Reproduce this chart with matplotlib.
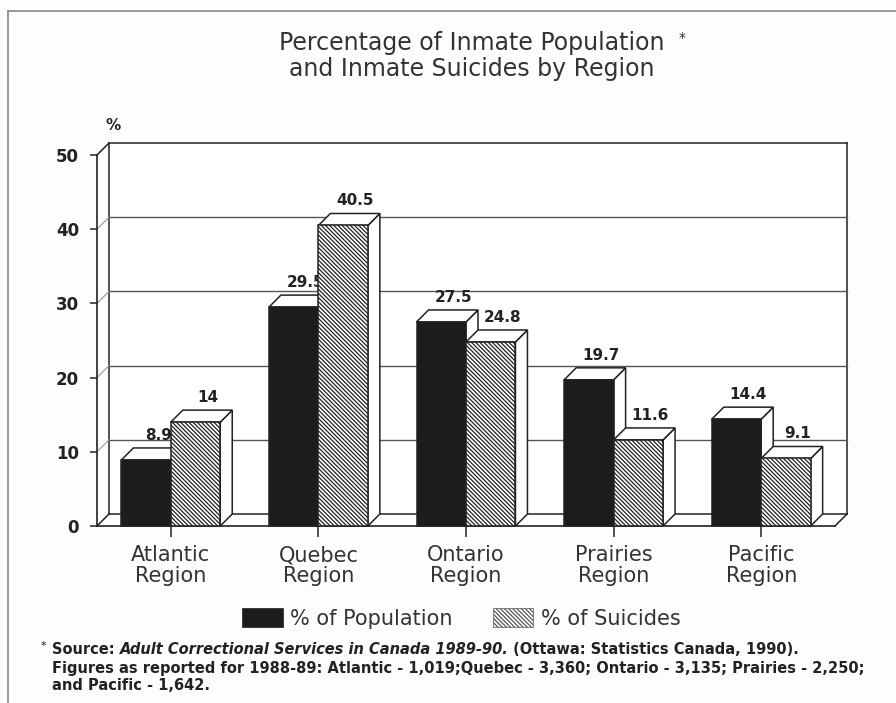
import matplotlib
matplotlib.use("Agg")
import matplotlib.pyplot as plt
from matplotlib.patches import Polygon, Rectangle
from matplotlib.lines import Line2D

regions = ["Atlantic\nRegion", "Quebec\nRegion", "Ontario\nRegion", "Prairies\nRegion", "Pacific\nRegion"]
pct_population = [8.9, 29.5, 27.5, 19.7, 14.4]
pct_suicides = [14, 40.5, 24.8, 11.6, 9.1]
pop_labels = ["8.9", "29.5", "27.5", "19.7", "14.4"]
sui_labels = ["14", "40.5", "24.8", "11.6", "9.1"]
yticks = [0, 10, 20, 30, 40, 50]

W, H = 896, 703
ink = "#222222"
hatch = "\\" * 8
plt.rcParams["hatch.linewidth"] = 0.9

fig = plt.figure(figsize=(W / 100, H / 100), dpi=100)
fig.patch.set_facecolor("#fdfdfb")

def fx(px):
    return px / W

def fy(py):
    return 1 - py / H

# front plane of the 3d box
ax = fig.add_axes([fx(97), fy(526), fx(835) - fx(97), fy(155) - fy(526)])
ax.set_xlim(-0.5, 4.5)
ax.set_ylim(0, 50)
ax.patch.set_alpha(0)
for s in ["top", "right"]:
    ax.spines[s].set_visible(False)
for s in ["left", "bottom"]:
    ax.spines[s].set_linewidth(1.2)
    ax.spines[s].set_color(ink)

# depth of the box, 12 px in data units
ddx = 12 / (738 / 5)
ddy = 12 / (371 / 50)

x0, x1 = -0.5, 4.5
lk = dict(color=ink, lw=1.1, clip_on=False, zorder=1)
ax.add_patch(Rectangle((x0 + ddx, ddy), 5, 50, fc="white", ec="none", zorder=0, clip_on=False))
ax.plot([x0 + ddx, x1 + ddx], [50 + ddy, 50 + ddy], **lk)
ax.plot([x0 + ddx, x0 + ddx], [ddy, 50 + ddy], **lk)
ax.plot([x1 + ddx, x1 + ddx], [ddy, 50 + ddy], **lk)
ax.plot([x0 + ddx, x1 + ddx], [ddy, ddy], **lk)
ax.plot([x0, x0 + ddx], [50, 50 + ddy], **lk)
ax.plot([x0, x0 + ddx], [0, ddy], **lk)
ax.plot([x1, x1 + ddx], [0, ddy], **lk)
for v in yticks[1:-1]:
    ax.plot([x0 + ddx, x1 + ddx], [v + ddy, v + ddy], color="#555555", lw=1.0, clip_on=False, zorder=1)
    ax.plot([x0, x0 + ddx], [v, v + ddy], color="#999999", lw=0.8, clip_on=False, zorder=1)

w = 0.335

def bar3d(left, h, face, htch, label):
    ax.add_patch(Polygon([(left + w, 0), (left + w + ddx, ddy), (left + w + ddx, h + ddy), (left + w, h)],
                         fc="white", ec=ink, lw=1.1, zorder=5, clip_on=False))
    ax.add_patch(Polygon([(left, h), (left + ddx, h + ddy), (left + w + ddx, h + ddy), (left + w, h)],
                         fc="white", ec=ink, lw=1.1, zorder=5, clip_on=False))
    ax.bar(left, h, w, align="edge", color=face, hatch=htch, edgecolor=ink, lw=1.1, zorder=5, clip_on=False)
    ax.text(left + w / 2 + ddx, h + ddy + 0.7, label, ha="center", va="bottom",
            fontsize=11, fontweight="bold", color=ink, zorder=5)

for i in range(len(regions)):
    bar3d(i - w, pct_population[i], "#1c1c1c", None, pop_labels[i])
    bar3d(i, pct_suicides[i], "white", hatch, sui_labels[i])

ax.set_yticks(yticks)
ax.set_yticklabels([str(v) for v in yticks], fontsize=12, fontweight="bold", color=ink)
ax.set_xticks(range(len(regions)))
ax.set_xticklabels(regions, fontsize=15, color="#333333", linespacing=1.05)
ax.tick_params(axis="y", length=5, width=1.1, pad=8, color=ink)
ax.tick_params(axis="x", length=8, width=1.1, pad=6, color=ink)

fig.text(fx(113), fy(125), "%", ha="center", va="center", fontsize=11, fontweight="bold", color=ink)

# title
fig.text(fx(472), fy(56), "Percentage of Inmate Population\nand Inmate Suicides by Region",
         ha="center", va="center", fontsize=17, color="#333333", linespacing=1.15)
fig.text(fx(682), fy(38), "*", ha="center", va="center", fontsize=10, color="#333333")

# legend
fig.add_artist(Rectangle((fx(242), fy(627)), 41 / W, 19 / H, transform=fig.transFigure,
                         fc="#1c1c1c", ec="#1c1c1c", lw=0.5))
fig.text(fx(290), fy(619), "% of Population", ha="left", va="center", fontsize=15, color="#333333")
fig.add_artist(Rectangle((fx(493), fy(627)), 40 / W, 19 / H, transform=fig.transFigure,
                         fc="white", ec="#555555", lw=0.5, hatch=hatch))
fig.text(fx(541), fy(619), "% of Suicides", ha="left", va="center", fontsize=15, color="#333333")

# footnote
fk = dict(fontsize=10.5, fontweight="bold", color=ink)
fig.text(fx(43), fy(646), "*", ha="center", va="center", fontsize=8, color=ink)
t1 = fig.text(fx(52), fy(650), "Source: ", ha="left", va="center", **fk)
t2 = ax.annotate("Adult Correctional Services in Canada 1989-90.", xy=(1, 0), xycoords=t1,
                 ha="left", va="bottom", fontstyle="italic", annotation_clip=False, **fk)
ax.annotate(" (Ottawa: Statistics Canada, 1990).", xy=(1, 0), xycoords=t2,
            ha="left", va="bottom", annotation_clip=False, **fk)
fig.text(fx(52), fy(668), "Figures as reported for 1988-89: Atlantic - 1,019;Quebec - 3,360; Ontario - 3,135; Prairies - 2,250;",
         ha="left", va="center", **fk)
fig.text(fx(52), fy(686), "and Pacific - 1,642.", ha="left", va="center", **fk)

# page frame
fig.add_artist(Line2D([fx(8), fx(8)], [fy(11), 0], transform=fig.transFigure, color="#888888", lw=1.2))
fig.add_artist(Line2D([fx(8), 1], [fy(11), fy(11)], transform=fig.transFigure, color="#888888", lw=1.2))

fig.savefig("out.png", dpi=100, facecolor=fig.get_facecolor())
